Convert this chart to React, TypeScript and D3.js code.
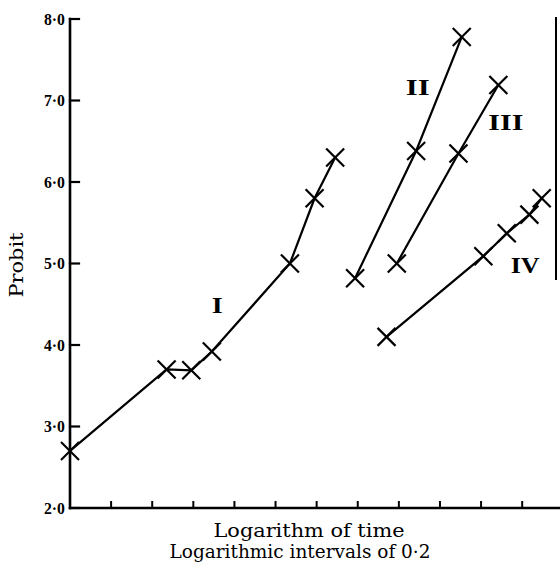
import React from "react";
import * as d3 from "d3";

// Log time (0.2 log-unit grid) and probit values for each lettered series
const logTimeI = [0, 0.47, 0.59, 0.69, 1.07, 1.19, 1.29];
const probitI = [2.7, 3.7, 3.69, 3.92, 5.0, 5.8, 6.3];

const logTimeII = [1.387, 1.684, 1.906];
const probitII = [4.82, 6.38, 7.78];

const logTimeIII = [1.59, 1.89, 2.084];
const probitIII = [5.0, 6.35, 7.19];

const logTimeIV = [1.54, 2.011, 2.125, 2.235, 2.295];
const probitIV = [4.1, 5.09, 5.37, 5.6, 5.8];

const seriesNames = ["I", "II", "III", "IV"];
const yTickValues = [2, 3, 4, 5, 6, 7, 8];
const yTickLabels = ["2·0", "3·0", "4·0", "5·0", "6·0", "7·0", "8·0"];
const xTickValues = [0.2, 0.4, 0.6, 0.8, 1.0, 1.2, 1.4, 1.6, 1.8, 2.0, 2.2];

const W = 560;
const H = 567;

const x = d3.scaleLinear().domain([0, 2.384]).range([70, 560]);
const y = d3.scaleLinear().domain([2, 8]).range([508, 19]);

type Pt = { t: number; p: number };
const zip = (t: number[], p: number[]): Pt[] => t.map((v, i) => ({ t: v, p: p[i] }));

const series: Pt[][] = [
  zip(logTimeI, probitI),
  zip(logTimeII, probitII),
  zip(logTimeIII, probitIII),
  zip(logTimeIV, probitIV),
];

// label anchor: point index within the series and pixel offset
const labelPos: { idx: number; dx: number; dy: number; len: number }[] = [
  { idx: 3, dx: 0, dy: -39, len: 11 },
  { idx: 2, dx: -56, dy: 58, len: 24 },
  { idx: 2, dx: -10, dy: 45, len: 35 },
  { idx: 4, dx: -31, dy: 75, len: 29 },
];

const line = d3
  .line<Pt>()
  .x((d) => x(d.t))
  .y((d) => y(d.p));

const CROSS = 9;

export default function App() {
  const serif = "'DejaVu Serif', 'Liberation Serif', serif";
  const bold = "'Liberation Serif', 'DejaVu Serif', serif";
  return (
    <svg
      width={W}
      height={H}
      style={{ position: "absolute", left: 0, top: 0, background: "#fff" }}
    >
      {/* axes */}
      <g stroke="#000" fill="none" strokeLinecap="square">
        <line x1={x(0)} x2={x(0)} y1={y(8)} y2={y(2)} strokeWidth={2.6} />
        <line x1={x(0)} x2={W} y1={y(2)} y2={y(2)} strokeWidth={2.4} />
        {yTickValues.map((v) => (
          <line key={v} x1={x(0)} x2={x(0) + 9} y1={y(v)} y2={y(v)} strokeWidth={2.2} />
        ))}
        {xTickValues.map((v) => (
          <line key={v} x1={x(v)} x2={x(v)} y1={y(2)} y2={y(2) - 6} strokeWidth={2} />
        ))}
        {/* frame edge at the right */}
        <line x1={556} x2={556} y1={17} y2={280} strokeWidth={2} strokeLinecap="butt" />
      </g>

      {yTickValues.map((v, i) => (
        <text
          key={v}
          x={x(0) - 5}
          y={y(v)}
          dy="0.36em"
          textAnchor="end"
          fontFamily={bold}
          fontWeight="bold"
          fontSize={16.5}
          textLength={21}
          lengthAdjust="spacingAndGlyphs"
        >
          {yTickLabels[i]}
        </text>
      ))}

      <text
        transform={`translate(23, 265) rotate(-90)`}
        textAnchor="middle"
        fontFamily={serif}
        fontSize={18.5}
        textLength={65}
        lengthAdjust="spacingAndGlyphs"
      >
        Probit
      </text>

      <text
        x={309}
        y={537}
        textAnchor="middle"
        fontFamily={serif}
        fontSize={18}
        textLength={191}
        lengthAdjust="spacingAndGlyphs"
      >
        Logarithm of time
      </text>
      <text
        x={300}
        y={558}
        textAnchor="middle"
        fontFamily={serif}
        fontSize={18}
        textLength={261}
        lengthAdjust="spacingAndGlyphs"
      >
        Logarithmic intervals of 0·2
      </text>

      {/* series lines and crosses */}
      {series.map((pts, si) => (
        <g key={si}>
          <path d={line(pts) ?? ""} fill="none" stroke="#000" strokeWidth={2.2} />
          {pts.map((d, i) => (
            <g key={i} stroke="#000" strokeWidth={2.2}>
              <line
                x1={x(d.t) - CROSS}
                x2={x(d.t) + CROSS}
                y1={y(d.p) - CROSS}
                y2={y(d.p) + CROSS}
              />
              <line
                x1={x(d.t) - CROSS}
                x2={x(d.t) + CROSS}
                y1={y(d.p) + CROSS}
                y2={y(d.p) - CROSS}
              />
            </g>
          ))}
          <text
            x={x(pts[labelPos[si].idx].t) + labelPos[si].dx}
            y={y(pts[labelPos[si].idx].p) + labelPos[si].dy}
            fontFamily={bold}
            fontWeight="bold"
            fontSize={24}
            textLength={labelPos[si].len}
            lengthAdjust="spacingAndGlyphs"
          >
            {seriesNames[si]}
          </text>
        </g>
      ))}
    </svg>
  );
}
